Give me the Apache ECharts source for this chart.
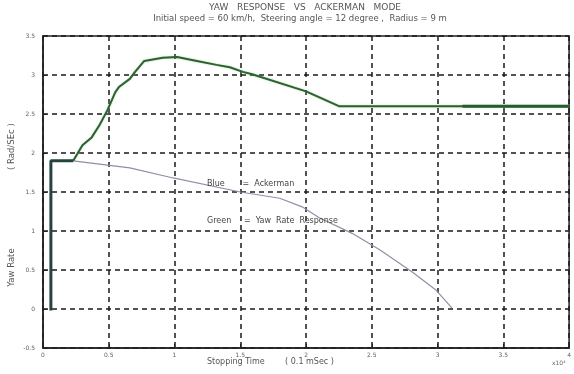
<!DOCTYPE html>
<html>
<head>
<meta charset="utf-8">
<script src="https://cdn.jsdelivr.net/npm/echarts@6/dist/echarts.min.js"></script>
<style>html,body{margin:0;padding:0;background:#fff}#c{width:574px;height:374px}</style>
</head>
<body>
<div id="c"></div>
<script>
// Stopping time (x10^4, units of 0.1 mSec) and yaw rate (Rad/Sec)
var yawTime = [0.23, 0.30, 0.37, 0.43, 0.49, 0.55, 0.58, 0.66, 0.70, 0.77, 0.91, 1.02, 1.17, 1.32, 1.42, 1.52, 1.59, 2.00, 2.25, 4.00];
var yawRate = [1.90, 2.10, 2.20, 2.36, 2.55, 2.78, 2.85, 2.95, 3.04, 3.18, 3.22, 3.23, 3.18, 3.13, 3.10, 3.04, 3.01, 2.79, 2.60, 2.60];
var yawTailTime = [3.19, 4.00];
var yawTailRate = [2.60, 2.60];
var stepTime = [0.06, 0.06, 0.23];
var stepRate = [-0.02, 1.90, 1.90];
var ackTime = [0.23, 0.66, 0.99, 1.50, 1.80, 1.97, 2.10, 2.35, 2.56, 2.81, 2.99, 3.11];
var ackRate = [1.90, 1.81, 1.68, 1.50, 1.42, 1.31, 1.17, 0.97, 0.76, 0.47, 0.24, 0.01];
var xTicks = ['0', '0.5', '1', '1.5', '2', '2.5', '3', '3.5', '4'];
var yTicks = ['-0.5', '0', '0.5', '1', '1.5', '2', '2.5', '3', '3.5'];

function pairs(xs, ys) { return xs.map(function (x, i) { return [x, ys[i]]; }); }

var chart = echarts.init(document.getElementById('c'), null, { renderer: 'canvas' });
var txt = '#5e5e5e';
var font = 'DejaVu Sans';
chart.setOption({
  backgroundColor: '#ffffff',
  animation: false,
  grid: { left: 43, right: 4, top: 36, bottom: 26, show: true, borderColor: '#222', borderWidth: 1.5 },
  xAxis: {
    type: 'value', min: 0, max: 4, interval: 0.5,
    axisLine: { show: true, onZero: false, lineStyle: { color: '#222', width: 1.5 } },
    axisTick: { show: true, inside: true, length: 4, lineStyle: { color: '#222' } },
    axisLabel: { color: txt, fontSize: 6, fontFamily: font, margin: 4,
      formatter: function (v) { return xTicks[Math.round(v / 0.5)]; } },
    splitLine: { show: true, lineStyle: { color: '#1a1a1a', type: [5, 4], width: 1.5 } }
  },
  yAxis: {
    type: 'value', min: -0.5, max: 3.5, interval: 0.5,
    axisLine: { show: true, onZero: false, lineStyle: { color: '#222', width: 1.5 } },
    axisTick: { show: true, inside: true, length: 4, lineStyle: { color: '#222' } },
    axisLabel: { color: txt, fontSize: 6, fontFamily: font, margin: 8,
      formatter: function (v) { return yTicks[Math.round((v + 0.5) / 0.5)]; } },
    splitLine: { show: true, lineStyle: { color: '#1a1a1a', type: [5, 4], width: 1.5 } }
  },
  series: [
    { type: 'line', data: pairs(ackTime, ackRate), showSymbol: false, z: 3,
      lineStyle: { color: '#8c92a4', width: 1.2 } },
    { type: 'line', data: pairs(yawTime, yawRate), showSymbol: false, z: 4,
      lineStyle: { color: '#2f5f33', width: 2, shadowColor: 'rgba(120,200,110,0.6)', shadowBlur: 2 } },
    { type: 'line', data: pairs(yawTailTime, yawTailRate), showSymbol: false, z: 5,
      lineStyle: { color: '#2a5a30', width: 3 } },
    { type: 'line', data: pairs(stepTime, stepRate), showSymbol: false, z: 6,
      lineStyle: { color: '#25443f', width: 3 } }
  ],
  graphic: [
    { type: 'text', x: 305, y: 8, style: { text: 'YAW   RESPONSE   VS   ACKERMAN   MODE', fill: '#555', font: '9px DejaVu Sans', align: 'center', verticalAlign: 'middle' }, z: 10 },
    { type: 'text', x: 300, y: 19, style: { text: 'Initial speed = 60 km/h,  Steering angle = 12 degree ,  Radius = 9 m', fill: '#555', font: '8.5px DejaVu Sans', align: 'center', verticalAlign: 'middle' }, z: 10 },
    { type: 'text', left: 207, top: 180, style: { text: 'Blue       =  Ackerman', fill: '#444', font: '8px DejaVu Sans' }, z: 10 },
    { type: 'text', left: 207, top: 217, style: { text: 'Green     =  Yaw  Rate  Response', fill: '#444', font: '8px DejaVu Sans' }, z: 10 },
    { type: 'text', left: 207, top: 358, style: { text: 'Stopping Time        ( 0.1 mSec )', fill: '#555', font: '8px DejaVu Sans' }, z: 10 },
    { type: 'text', left: 552, top: 360, style: { text: 'x10\u2074', fill: '#666', font: '6px DejaVu Sans' }, z: 10 },
    { type: 'text', x: 12, y: 205, rotation: Math.PI / 2, style: { text: 'Yaw Rate                             ( Rad/SEc )', fill: '#555', font: '8.5px DejaVu Sans', align: 'center', verticalAlign: 'middle' }, z: 10 }
  ]
});
</script>
</body>
</html>
